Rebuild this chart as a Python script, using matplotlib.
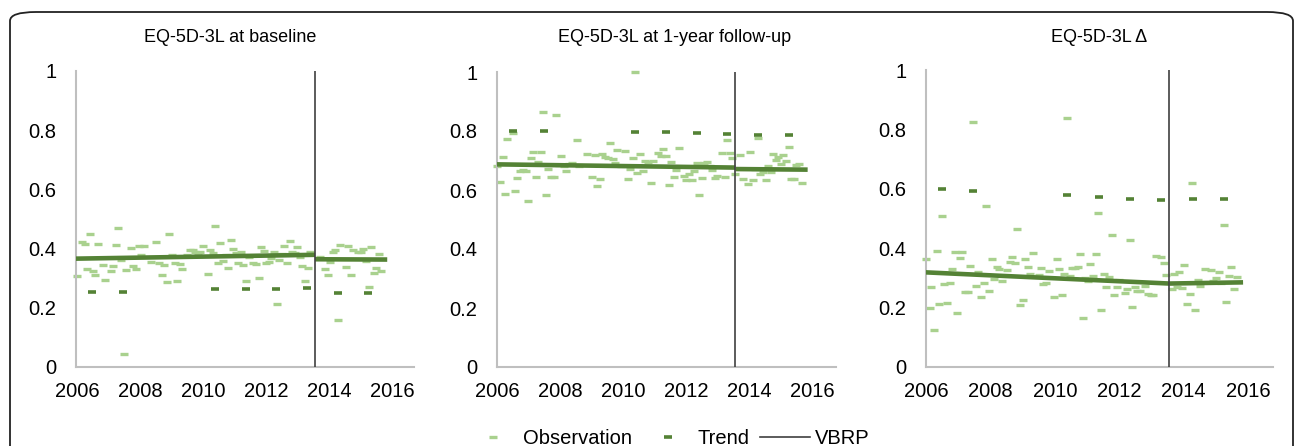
import numpy as np
import matplotlib
matplotlib.use("Agg")
import matplotlib.pyplot as plt
from matplotlib.patches import FancyBboxPatch

plt.rcParams['font.family'] = ['Liberation Sans', 'DejaVu Sans']

# ---- data ----
titles = ["EQ-5D-3L at baseline", "EQ-5D-3L at 1-year follow-up", "EQ-5D-3L Δ"]
vbrp = 2013.56
years_ticks = [2006, 2008, 2010, 2012, 2014, 2016]
y_ticks = [0, 0.2, 0.4, 0.6, 0.8, 1]
y_labels = ["0", "0.2", "0.4", "0.6", "0.8", "1"]

obs1_x = [2006.01, 2006.15, 2006.25, 2006.33, 2006.41, 2006.50, 2006.58, 2006.67, 2006.82, 2006.90,
          2007.07, 2007.14, 2007.24, 2007.31, 2007.40, 2007.48, 2007.56, 2007.71, 2007.79, 2007.88,
          2007.96, 2008.04, 2008.13, 2008.36, 2008.52, 2008.61, 2008.70, 2008.77, 2008.86, 2008.93,
          2009.02, 2009.10, 2009.18, 2009.27, 2009.34, 2009.50, 2009.59, 2009.67, 2009.75, 2009.83,
          2009.90, 2009.99, 2010.15, 2010.22, 2010.32, 2010.39, 2010.48, 2010.55, 2010.63, 2010.72,
          2010.80, 2010.88, 2010.96, 2011.05, 2011.12, 2011.20, 2011.28, 2011.37, 2011.45, 2011.60,
          2011.68, 2011.77, 2011.85, 2011.94, 2012.01, 2012.10, 2012.17, 2012.26, 2012.35, 2012.42,
          2012.51, 2012.58, 2012.67, 2012.75, 2012.83, 2012.91, 2013.00, 2013.07, 2013.16, 2013.24,
          2013.33, 2013.40, 2013.71, 2013.88, 2013.96, 2014.04, 2014.12, 2014.20, 2014.29, 2014.36,
          2014.53, 2014.61, 2014.69, 2014.77, 2014.93, 2015.02, 2015.09, 2015.17, 2015.26, 2015.34,
          2015.42, 2015.50, 2015.59, 2015.66]
obs1_y = [0.309, 0.423, 0.417, 0.330, 0.449, 0.326, 0.311, 0.414, 0.345, 0.295,
          0.325, 0.340, 0.413, 0.469, 0.363, 0.044, 0.328, 0.401, 0.340, 0.330,
          0.410, 0.380, 0.408, 0.356, 0.421, 0.351, 0.312, 0.343, 0.286, 0.451,
          0.379, 0.350, 0.290, 0.347, 0.330, 0.378, 0.394, 0.396, 0.389, 0.386,
          0.387, 0.410, 0.315, 0.396, 0.385, 0.478, 0.353, 0.418, 0.358, 0.377,
          0.336, 0.430, 0.400, 0.386, 0.352, 0.390, 0.343, 0.291, 0.370, 0.352,
          0.347, 0.299, 0.405, 0.393, 0.351, 0.356, 0.367, 0.388, 0.212, 0.361,
          0.383, 0.409, 0.350, 0.424, 0.388, 0.384, 0.404, 0.370, 0.340, 0.289,
          0.335, 0.388, 0.372, 0.330, 0.310, 0.356, 0.390, 0.394, 0.159, 0.413,
          0.337, 0.410, 0.312, 0.394, 0.388, 0.388, 0.399, 0.357, 0.270, 0.406,
          0.316, 0.334, 0.382, 0.324]

obs2_x = [2006.00, 2006.10, 2006.17, 2006.23, 2006.32, 2006.49, 2006.56, 2006.64, 2006.73, 2006.82,
          2006.90, 2006.97, 2007.06, 2007.13, 2007.22, 2007.30, 2007.39, 2007.46, 2007.55, 2007.62,
          2007.70, 2007.79, 2007.86, 2007.95, 2008.03, 2008.12, 2008.19, 2008.28, 2008.36, 2008.52,
          2008.60, 2008.85, 2009.00, 2009.09, 2009.16, 2009.25, 2009.33, 2009.42, 2009.50, 2009.58,
          2009.66, 2009.74, 2009.81, 2009.92, 2010.05, 2010.14, 2010.21, 2010.30, 2010.36, 2010.44,
          2010.54, 2010.61, 2010.70, 2010.78, 2010.87, 2010.94, 2011.11, 2011.20, 2011.27, 2011.36,
          2011.44, 2011.52, 2011.60, 2011.68, 2011.77, 2011.92, 2012.00, 2012.09, 2012.17, 2012.24,
          2012.33, 2012.40, 2012.49, 2012.57, 2012.65, 2012.74, 2012.82, 2012.90, 2012.98, 2013.14,
          2013.23, 2013.30, 2013.37, 2013.46, 2013.55, 2013.70, 2013.79, 2013.95, 2014.02, 2014.10,
          2014.19, 2014.28, 2014.35, 2014.44, 2014.52, 2014.60, 2014.68, 2014.76, 2014.83, 2014.92,
          2015.00, 2015.08, 2015.17, 2015.25, 2015.32, 2015.41, 2015.49, 2015.58, 2015.66]
obs2_y = [0.680, 0.626, 0.712, 0.587, 0.772, 0.792, 0.597, 0.640, 0.665, 0.669,
          0.663, 0.563, 0.707, 0.730, 0.644, 0.696, 0.730, 0.864, 0.584, 0.671,
          0.643, 0.643, 0.853, 0.684, 0.715, 0.682, 0.665, 0.689, 0.692, 0.769,
          0.683, 0.722, 0.643, 0.719, 0.615, 0.636, 0.721, 0.711, 0.708, 0.758,
          0.704, 0.692, 0.734, 0.680, 0.733, 0.637, 0.670, 0.710, 1.000, 0.656,
          0.722, 0.665, 0.697, 0.694, 0.625, 0.700, 0.724, 0.716, 0.740, 0.715,
          0.618, 0.696, 0.643, 0.667, 0.741, 0.648, 0.633, 0.653, 0.635, 0.663,
          0.692, 0.584, 0.642, 0.690, 0.696, 0.682, 0.667, 0.641, 0.647, 0.724,
          0.643, 0.768, 0.726, 0.710, 0.655, 0.720, 0.636, 0.619, 0.728, 0.633,
          0.670, 0.777, 0.653, 0.662, 0.635, 0.682, 0.662, 0.723, 0.703, 0.712,
          0.687, 0.720, 0.698, 0.745, 0.636, 0.636, 0.685, 0.689, 0.623]

obs3_x = [2006.01, 2006.11, 2006.17, 2006.25, 2006.33, 2006.41, 2006.49, 2006.57, 2006.65, 2006.74,
          2006.81, 2006.89, 2006.97, 2007.06, 2007.13, 2007.21, 2007.29, 2007.38, 2007.47, 2007.54,
          2007.62, 2007.71, 2007.79, 2007.87, 2007.95, 2008.04, 2008.11, 2008.20, 2008.28, 2008.35,
          2008.52, 2008.60, 2008.68, 2008.76, 2008.84, 2008.92, 2009.00, 2009.08, 2009.17, 2009.24,
          2009.33, 2009.50, 2009.57, 2009.65, 2009.74, 2009.81, 2009.98, 2010.06, 2010.14, 2010.21,
          2010.30, 2010.39, 2010.46, 2010.54, 2010.63, 2010.71, 2010.79, 2010.87, 2010.95, 2011.03,
          2011.10, 2011.19, 2011.28, 2011.35, 2011.43, 2011.52, 2011.60, 2011.68, 2011.77, 2011.84,
          2011.93, 2012.00, 2012.17, 2012.24, 2012.33, 2012.41, 2012.49, 2012.56, 2012.65, 2012.81,
          2012.89, 2012.98, 2013.06, 2013.14, 2013.30, 2013.38, 2013.45, 2013.63, 2013.71, 2013.80,
          2013.87, 2013.95, 2014.03, 2014.12, 2014.19, 2014.27, 2014.35, 2014.44, 2014.52, 2014.68,
          2014.84, 2014.92, 2015.00, 2015.09, 2015.16, 2015.25, 2015.33, 2015.41, 2015.49, 2015.58,
          2015.66]
obs3_y = [0.362, 0.199, 0.271, 0.124, 0.390, 0.212, 0.510, 0.278, 0.214, 0.284,
          0.329, 0.388, 0.183, 0.367, 0.388, 0.251, 0.252, 0.340, 0.824, 0.272,
          0.319, 0.235, 0.282, 0.541, 0.257, 0.362, 0.296, 0.337, 0.330, 0.291,
          0.328, 0.354, 0.372, 0.350, 0.464, 0.208, 0.226, 0.364, 0.338, 0.313,
          0.383, 0.311, 0.332, 0.280, 0.283, 0.324, 0.236, 0.364, 0.330, 0.243,
          0.313, 0.840, 0.308, 0.332, 0.333, 0.336, 0.380, 0.164, 0.300, 0.288,
          0.346, 0.306, 0.379, 0.518, 0.193, 0.312, 0.271, 0.302, 0.444, 0.243,
          0.268, 0.293, 0.248, 0.262, 0.426, 0.202, 0.271, 0.255, 0.255, 0.274,
          0.247, 0.241, 0.241, 0.374, 0.370, 0.351, 0.311, 0.261, 0.312, 0.269,
          0.320, 0.265, 0.345, 0.212, 0.246, 0.621, 0.193, 0.294, 0.274, 0.329,
          0.326, 0.289, 0.300, 0.320, 0.282, 0.478, 0.218, 0.307, 0.338, 0.263,
          0.302]

# isolated trend points
trend_x = [2006.49, 2007.47, 2010.38, 2011.36, 2012.33, 2013.30, 2014.28, 2015.25]
trend1_y = [0.254, 0.254, 0.262, 0.262, 0.264, 0.267, 0.251, 0.251]
trend2_y = [0.800, 0.800, 0.795, 0.795, 0.792, 0.790, 0.788, 0.787]
trend3_y = [0.599, 0.593, 0.579, 0.573, 0.567, 0.563, 0.565, 0.566]

# fitted trend segments (before / after VBRP)
seg_pre_x = [2005.92, vbrp]
seg_post_x = [vbrp, 2015.85]
seg1_pre, seg1_post = [0.366, 0.379], [0.364, 0.363]
seg2_pre, seg2_post = [0.687, 0.676], [0.671, 0.669]
seg3_pre, seg3_post = [0.319, 0.281], [0.281, 0.285]

light = '#A9D18E'
dark = '#548235'

W, H = 1295, 446
fig = plt.figure(figsize=(W / 100, H / 100), dpi=100)

# pixel boxes: left, right, top, bottom
boxes = [(76, 414, 71, 367), (497, 836, 72, 367), (926, 1273, 70, 367)]
xlims = [(2005.97, 2016.70), (2005.99, 2016.75), (2006.0, 2016.78)]
title_x = [230, 675, 1099]

obs_all = [(obs1_x, obs1_y), (obs2_x, obs2_y), (obs3_x, obs3_y)]
trends = [trend1_y, trend2_y, trend3_y]
segs = [(seg1_pre, seg1_post), (seg2_pre, seg2_post), (seg3_pre, seg3_post)]

for i in range(3):
    l, r, t, b = boxes[i]
    ax = fig.add_axes([l / W, 1 - b / H, (r - l) / W, (b - t) / H])
    ox, oy = obs_all[i]
    ax.plot(ox, oy, linestyle='none', marker='_', markersize=5.5, markeredgewidth=2.4,
            color=light, clip_on=False, zorder=2)
    ax.plot(seg_pre_x, segs[i][0], color=dark, lw=3.3, solid_capstyle='butt', zorder=3)
    ax.plot(seg_post_x, segs[i][1], color=dark, lw=3.3, solid_capstyle='butt', zorder=3)
    ax.plot(trend_x, trends[i], linestyle='none', marker='_', markersize=6, markeredgewidth=2.6,
            color=dark, zorder=3)
    ax.axvline(vbrp, color='#404040', lw=1.2, zorder=4)

    ax.set_xlim(*xlims[i])
    ax.set_ylim(0, 1)
    ax.set_xticks(years_ticks)
    ax.set_yticks(y_ticks)
    ax.set_yticklabels(y_labels)
    ax.tick_params(length=0, labelsize=14.5, colors='black')
    ax.tick_params(axis='x', pad=11)
    ax.tick_params(axis='y', pad=14)
    for s in ['top', 'right']:
        ax.spines[s].set_visible(False)
    for s in ['left', 'bottom']:
        ax.spines[s].set_color('#BFBFBF')
        ax.spines[s].set_linewidth(1.5)
    fig.text(title_x[i] / W, 1 - 38 / H, titles[i], ha='center', va='center', fontsize=13)

# legend
h_obs, = plt.plot([], [], linestyle='none', marker='_', markersize=5.5, markeredgewidth=2.4, color=light)
h_tr, = plt.plot([], [], linestyle='none', marker='_', markersize=6, markeredgewidth=2.6, color=dark)
h_v, = plt.plot([], [], color='#404040', lw=1.2)
fig.legend([h_obs, h_tr, h_v], ['Observation', 'Trend', 'VBRP'], ncol=3, frameon=False,
           loc='center', bbox_to_anchor=(669 / W, 1 - 439 / H), fontsize=14.5,
           handlelength=2.5, handletextpad=0.25, columnspacing=0.5, borderpad=0)

# rounded outer frame
frame = FancyBboxPatch((10 / W, -0.2), (1293 - 10) / W, (H - 12) / H + 0.2,
                       boxstyle='round,pad=0,rounding_size=0.02', transform=fig.transFigure,
                       fill=False, edgecolor='#222222', lw=1.3, clip_on=False)
fig.patches.append(frame)

fig.savefig('out.png', dpi=100)
